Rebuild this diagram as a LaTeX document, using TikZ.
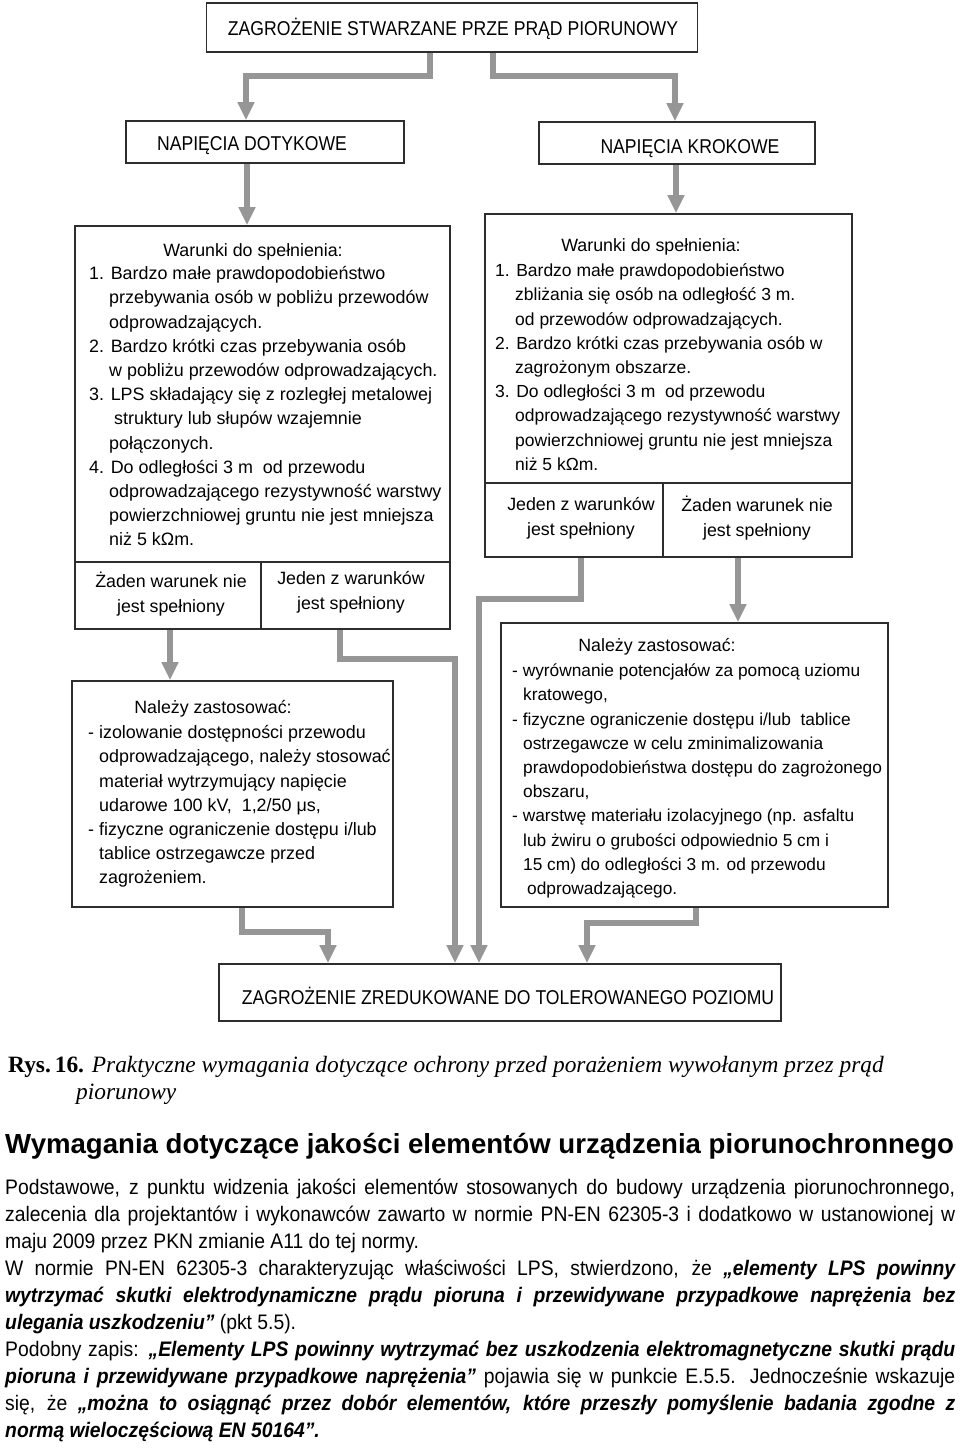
\documentclass[tikz,border=0pt]{standalone}
\usepackage{fontspec}
\setmainfont{Liberation Sans}
\newfontfamily\hdrfont[FakeStretch=0.88]{Liberation Sans}
\newfontfamily\bodyfont[FakeStretch=0.92]{Liberation Sans}
\newfontfamily\capfont{Liberation Serif}
\usetikzlibrary{arrows.meta,calc}
\definecolor{arrc}{RGB}{150,150,150}
\definecolor{edgec}{RGB}{45,45,45}
\newcommand\jl[1]{\makebox[950pt][s]{#1}}
\newcommand\bix[1]{{\bfseries\itshape #1}}
\begin{document}
\begin{tikzpicture}[x=1pt,y=-1pt,
  box/.style={draw=edgec, line width=1.6pt, inner sep=0pt},
  divline/.style={draw=edgec, line width=1.6pt},
  hdr/.style={font=\hdrfont\fontsize{20}{24}\selectfont, inner sep=0pt, anchor=base},
  lstL/.style={font=\fontsize{17.9}{24.2}\selectfont, inner sep=0pt, align=left, anchor=north west},
  lstR/.style={font=\fontsize{17.5}{24.2}\selectfont, inner sep=0pt, align=left, anchor=north west},
  lstRR/.style={font=\fontsize{17.3}{24.2}\selectfont, inner sep=0pt, align=left, anchor=north west},
  ttl/.style={font=\fontsize{17.8}{24.2}\selectfont, inner sep=0pt, anchor=base},
  cell/.style={font=\fontsize{17.8}{24.6}\selectfont, inner sep=0pt, align=center},
  conn/.style={draw=arrc, line width=6pt, line join=miter, -{Triangle[width=16pt,length=18pt]}}]
\fill[white] (0,0) rectangle (960,1448);
\useasboundingbox (0,0) rectangle (960,1448);

% ---- boxes
\node[box, minimum width=491pt, minimum height=49pt] (top) at (452,27.5) {};
\node[hdr] (toptxt) at (453,35) {ZAGROŻENIE STWARZANE PRZE PRĄD PIORUNOWY};

\node[box, minimum width=278pt, minimum height=42pt] (dot) at (265,142) {};
\node[hdr] (dottxt) at (252,150.5) {NAPIĘCIA DOTYKOWE};

\node[box, minimum width=276pt, minimum height=42pt] (krok) at (677,143) {};
\node[hdr] (kroktxt) at (690,153) {NAPIĘCIA KROKOWE};

% left conditions box
\node[box, minimum width=375pt, minimum height=403pt] (condL) at (262.5,427.5) {};
\draw[divline] (75,562) -- (450,562);
\draw[divline] (261,562) -- (261,629);
\node[ttl] (condLt) at (253,256.5) {Warunki do spełnienia:};
\node[lstL] (condLl) at (89,263.5) {\rule{0pt}{16pt}1. Bardzo małe prawdopodobieństwo\\
\hspace*{20pt}przebywania osób w pobliżu przewodów\\
\hspace*{20pt}odprowadzających.\\
2. Bardzo krótki czas przebywania osób\\
\hspace*{20pt}w pobliżu przewodów odprowadzających.\\
3. LPS składający się z rozległej metalowej\\
\hspace*{25pt}struktury lub słupów wzajemnie\\
\hspace*{20pt}połączonych.\\
4. Do odległości 3 m\ \ od przewodu\\
\hspace*{20pt}odprowadzającego rezystywność warstwy\\
\hspace*{20pt}powierzchniowej gruntu nie jest mniejsza\\
\hspace*{20pt}niż 5 kΩm.};
\node[cell] (condLa) at (171,594) {Żaden warunek nie\\jest spełniony};
\node[cell] (condLb) at (351,592) {Jeden z warunków\\jest spełniony};

% right conditions box
\node[box, minimum width=367pt, minimum height=343pt] (condR) at (668.5,385.5) {};
\draw[divline] (485,483) -- (852,483);
\draw[divline] (663,483) -- (663,557);
\node[ttl] (condRt) at (651,251.5) {Warunki do spełnienia:};
\node[lstR] (condRl) at (495,260.5) {\rule{0pt}{16pt}1. Bardzo małe prawdopodobieństwo\\
\hspace*{20pt}zbliżania się osób na odległość 3 m.\\
\hspace*{20pt}od przewodów odprowadzających.\\
2. Bardzo krótki czas przebywania osób w\\
\hspace*{20pt}zagrożonym obszarze.\\
3. Do odległości 3 m\ \ od przewodu\\
\hspace*{20pt}odprowadzającego rezystywność warstwy\\
\hspace*{20pt}powierzchniowej gruntu nie jest mniejsza\\
\hspace*{20pt}niż 5 kΩm.};
\node[cell] (condRa) at (581,518.5) {Jeden z warunków\\jest spełniony};
\node[cell] (condRb) at (757,518) {Żaden warunek nie\\jest spełniony};

% lower left box
\node[box, minimum width=321pt, minimum height=226pt] (needL) at (232.5,794) {};
\node[ttl] (needLt) at (213,713.5) {Należy zastosować:};
\node[lstL] (needLl) at (88,722.5) {\rule{0pt}{16pt}- izolowanie dostępności przewodu\\
\hspace*{11pt}odprowadzającego, należy stosować\\
\hspace*{11pt}materiał wytrzymujący napięcie\\
\hspace*{11pt}udarowe 100 kV,\ \ 1,2/50 μs,\\
- fizyczne ograniczenie dostępu i/lub\\
\hspace*{11pt}tablice ostrzegawcze przed\\
\hspace*{11pt}zagrożeniem.};

% lower right box
\node[box, minimum width=387pt, minimum height=284pt] (needR) at (694.5,765) {};
\node[ttl] (needRt) at (657,651.5) {Należy zastosować:};
\node[lstRR] (needRl) at (512,660.5) {\rule{0pt}{16pt}- wyrównanie potencjałów za pomocą uziomu\\
\hspace*{11pt}kratowego,\\
- fizyczne ograniczenie dostępu i/lub\ \ tablice\\
\hspace*{11pt}ostrzegawcze w celu zminimalizowania\\
\hspace*{11pt}prawdopodobieństwa dostępu do zagrożonego\\
\hspace*{11pt}obszaru,\\
- warstwę materiału izolacyjnego (np. asfaltu\\
\hspace*{11pt}lub żwiru o grubości odpowiednio 5 cm i\\
\hspace*{11pt}15 cm) do odległości 3 m. od przewodu\\
\hspace*{15pt}odprowadzającego.};

% bottom box
\node[box, minimum width=562pt, minimum height=57pt] (bot) at (500,992.5) {};
\node[hdr] (bottxt) at (508,1004) {ZAGROŻENIE ZREDUKOWANE DO TOLEROWANEGO POZIOMU};

% ---- connectors
\coordinate (k1a) at (430,76);  \coordinate (k1b) at (246,76);
\coordinate (k2a) at (493,76);  \coordinate (k2b) at (675,76);
\coordinate (k3) at (247,0);
\coordinate (k4) at (676,0);
\coordinate (k5) at (170,0);
\coordinate (k6a) at (340,659); \coordinate (k6b) at (455,659);
\coordinate (k7a) at (581,599); \coordinate (k7b) at (479,599);
\coordinate (k8) at (738,0);
\coordinate (k9a) at (242,932); \coordinate (k9b) at (328,932);
\coordinate (k10a) at (696,923); \coordinate (k10b) at (587,923);

\draw[conn] (top.south -| k1a) -- (k1a) -- (k1b) -- (dot.north -| k1b);
\draw[conn] (top.south -| k2a) -- (k2a) -- (k2b) -- (krok.north -| k2b);
\draw[conn] (dot.south -| k3) -- (condL.north -| k3);
\draw[conn] (krok.south -| k4) -- (condR.north -| k4);
\draw[conn] (condL.south -| k5) -- (needL.north -| k5);
\draw[conn] (condL.south -| k6a) -- (k6a) -- (k6b) -- (bot.north -| k6b);
\draw[conn] (condR.south -| k7a) -- (k7a) -- (k7b) -- (bot.north -| k7b);
\draw[conn] (condR.south -| k8) -- (needR.north -| k8);
\draw[conn] (needL.south -| k9a) -- (k9a) -- (k9b) -- (bot.north -| k9b);
\draw[conn] (needR.south -| k10a) -- (k10a) -- (k10b) -- (bot.north -| k10b);

% ---- caption and text below
\node[font=\capfont\fontsize{23.4}{27}\selectfont, inner sep=0pt, anchor=base west] (cap1) at (8,1072)
  {\textbf{Rys.\,16.} \textit{Praktyczne wymagania dotyczące ochrony przed porażeniem wywołanym przez prąd}};
\node[font=\capfont\fontsize{23.4}{27}\selectfont, inner sep=0pt, anchor=base west] (cap2) at (76,1099)
  {\textit{piorunowy}};

\node[font=\bfseries\fontsize{27.6}{32}\selectfont, inner sep=0pt, anchor=base west] (head) at (5,1153)
  {Wymagania dotyczące jakości elementów urządzenia piorunochronnego};

\node[font=\bodyfont\fontsize{21}{27}\selectfont, inner sep=0pt, align=left, anchor=north west] (bodytxt) at (5,1172.5)
{\rule{0pt}{22pt}\jl{Podstawowe, z punktu widzenia jakości elementów stosowanych do budowy urządzenia piorunochronnego,}\\
\jl{zalecenia dla projektantów i wykonawców zawarto w normie PN-EN 62305-3 i dodatkowo w ustanowionej w}\\
maju 2009 przez PKN zmianie A11 do tej normy.\\
\jl{W normie PN-EN 62305-3 charakteryzując właściwości LPS, stwierdzono, że \bix{„elementy LPS powinny}}\\
\jl{\bix{wytrzymać skutki elektrodynamiczne prądu pioruna i przewidywane przypadkowe naprężenia bez}}\\
\bix{ulegania uszkodzeniu”} (pkt 5.5).\\
\jl{Podobny zapis: \bix{„Elementy LPS powinny wytrzymać bez uszkodzenia elektromagnetyczne skutki prądu}}\\
\jl{\bix{pioruna i przewidywane przypadkowe naprężenia”} pojawia się w punkcie E.5.5. Jednocześnie wskazuje}\\
\jl{się, że \bix{„można to osiągnąć przez dobór elementów, które przeszły pomyślenie badania zgodne z}}\\
\bix{normą wieloczęściową EN 50164”.}};
\end{tikzpicture}
\end{document}
